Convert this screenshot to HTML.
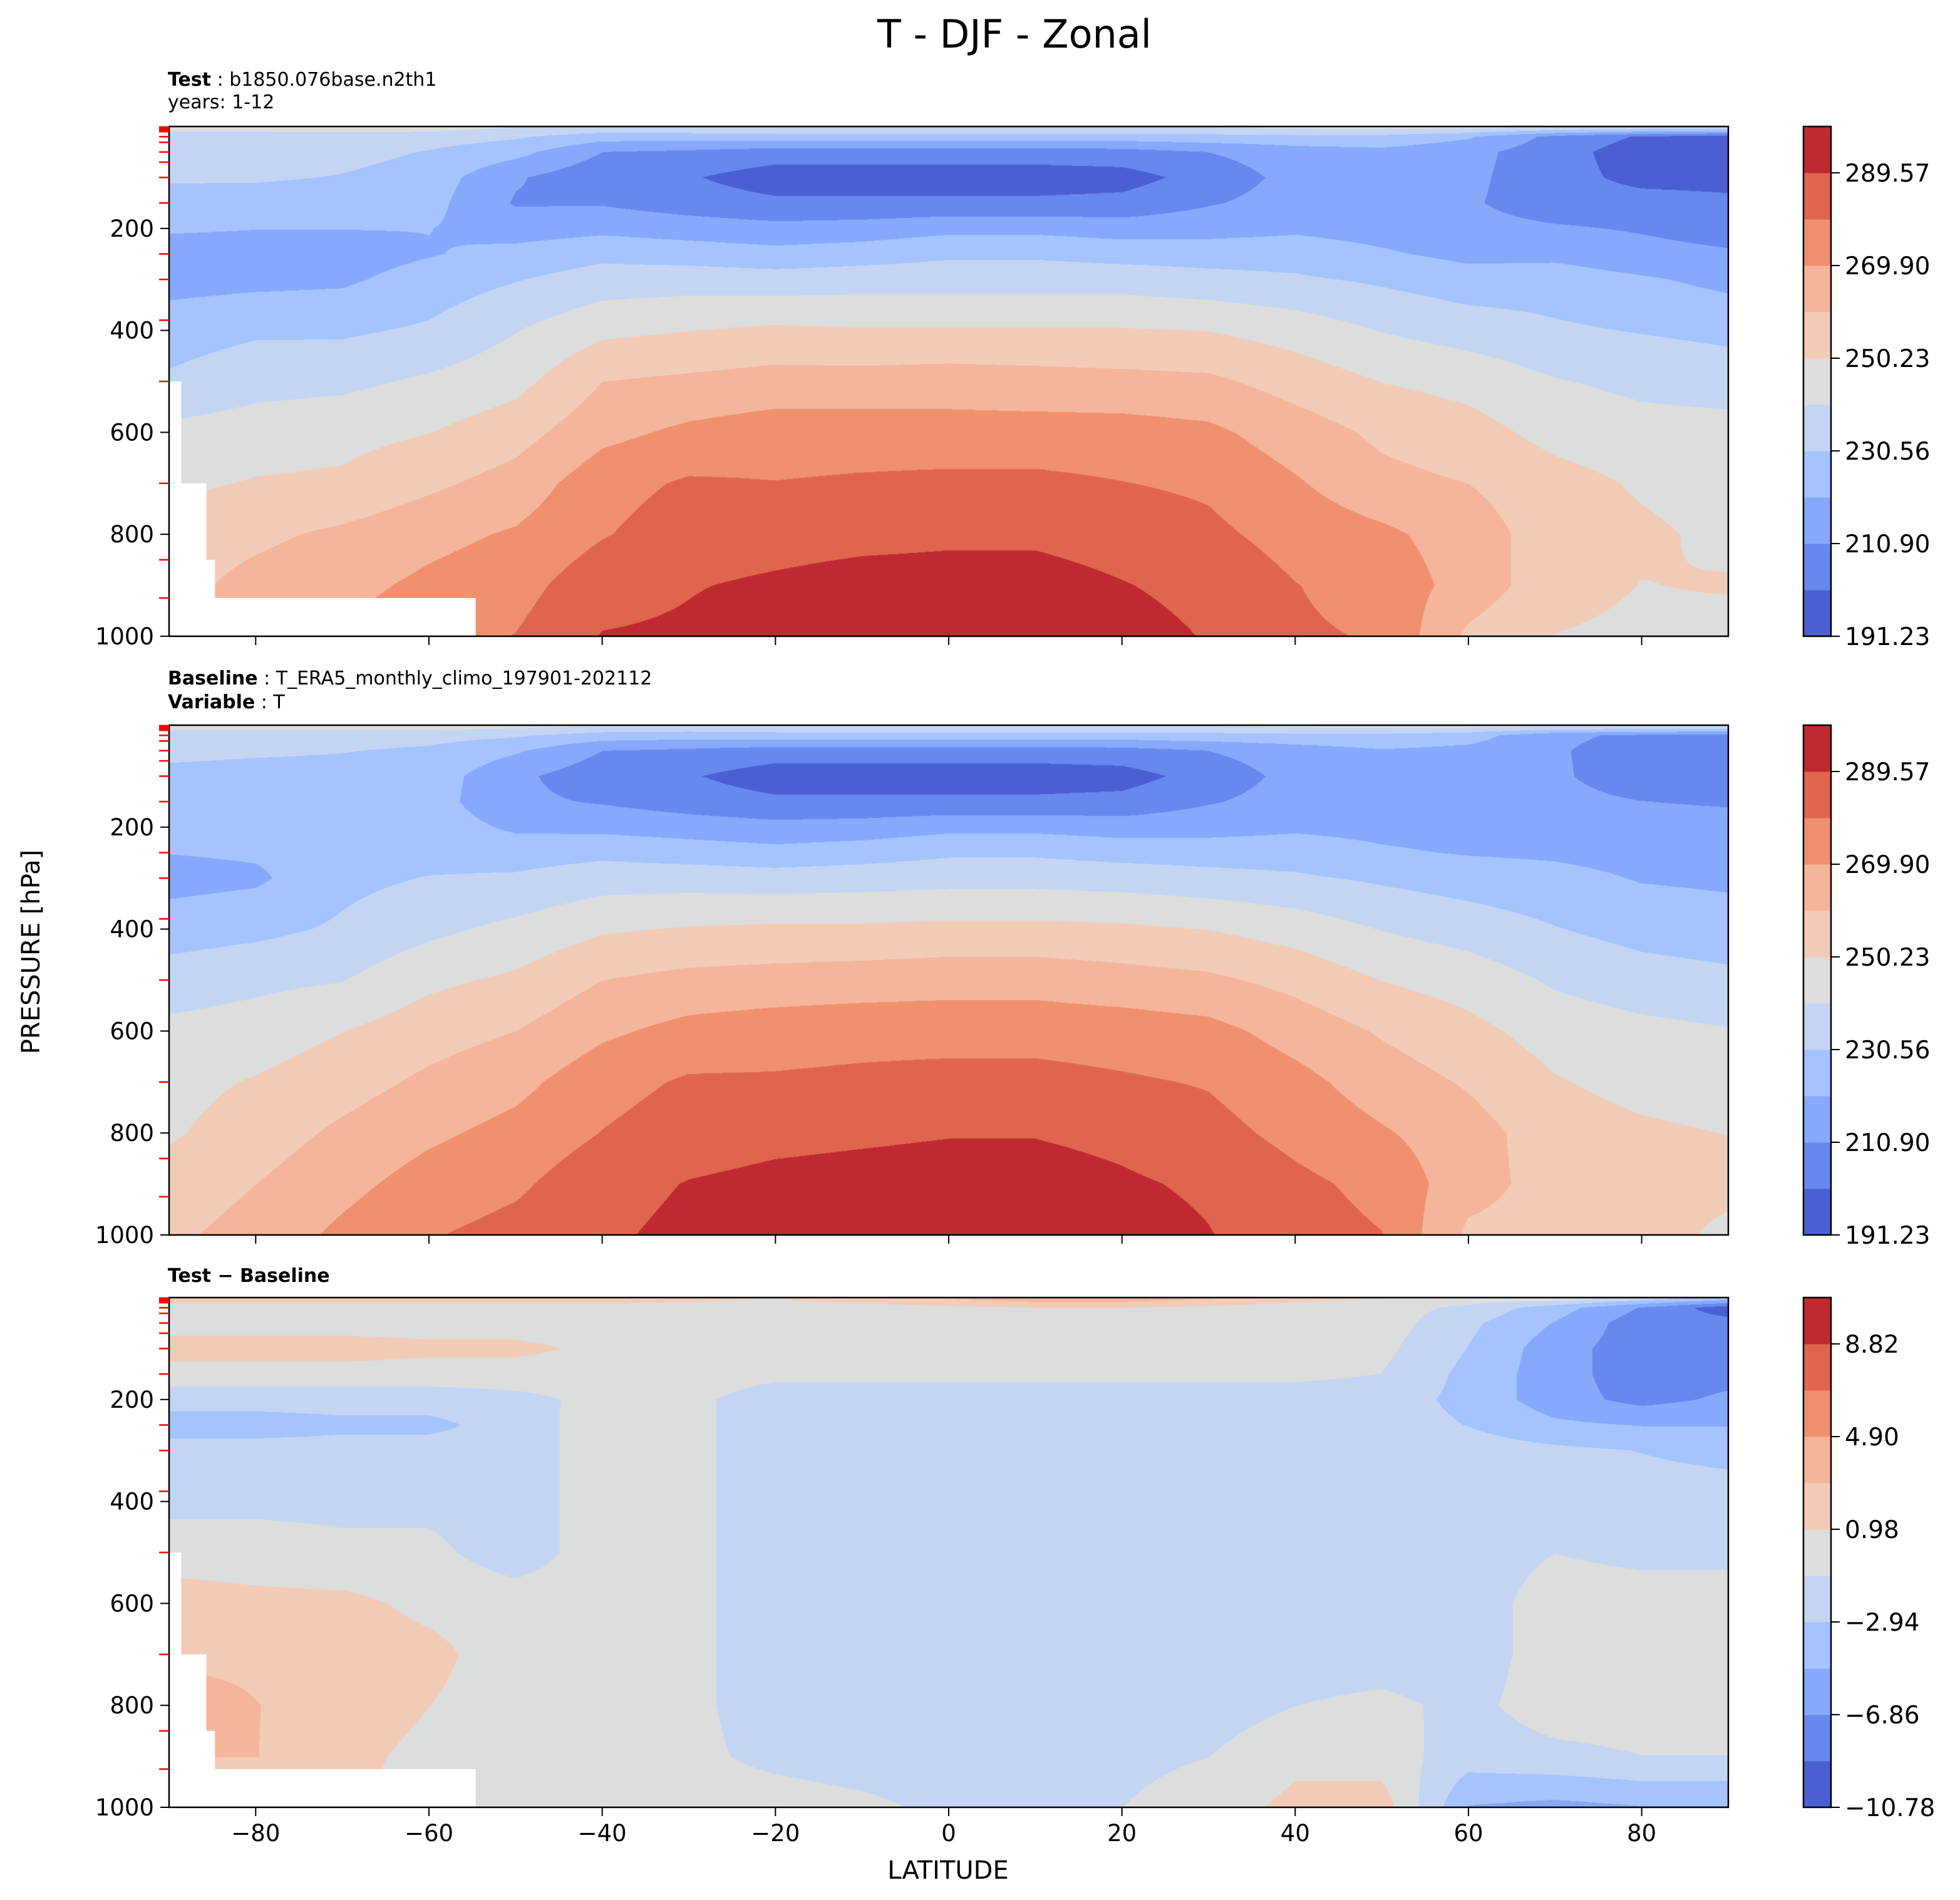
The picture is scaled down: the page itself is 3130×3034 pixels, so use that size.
<!DOCTYPE html>
<html><head><meta charset="utf-8"><style>
body{margin:0;background:#fff;}
#wrap{position:relative;width:3130px;height:3034px;overflow:hidden;font-family:"DejaVu Sans","Liberation Sans",sans-serif;}
canvas{position:absolute;}
.t{position:absolute;white-space:nowrap;color:#000;}
</style></head><body>
<div id="wrap">
<div class="t" style="left:0;width:3240px;text-align:center;top:18px;font-size:62px;">T - DJF - Zonal</div>
<div class="t" style="left:268px;top:110px;font-size:30px;"><b>Test</b> : b1850.076base.n2th1</div>
<div class="t" style="left:268px;top:146px;font-size:30px;">years: 1-12</div>
<div class="t" style="left:268px;top:1066px;font-size:30px;"><b>Baseline</b> : T_ERA5_monthly_climo_197901-202112</div>
<div class="t" style="left:268px;top:1104px;font-size:30px;"><b>Variable</b> : T</div>
<div class="t" style="left:268px;top:2020px;font-size:30px;font-weight:bold;">Test − Baseline</div>
<div class="t" style="left:50px;top:1520px;font-size:40px;transform:translate(-50%,-50%) rotate(-90deg);">PRESSURE [hPa]</div>
<div class="t" style="left:1514px;top:2964px;font-size:40px;transform:translateX(-50%);">LATITUDE</div>
<svg id="svg" width="3130" height="3034" style="position:absolute;left:0;top:0;"></svg>
</div>
<script>
// ---------- data ----------
const lats = [-90,-80,-70,-60,-50,-40,-30,-20,-10,0,10,20,30,40,50,60,70,80,90];
const pressures = [2,20,50,100,150,200,250,300,400,500,600,700,800,900,1000];
const testT = [
[245,235,235,232,226,222,216,217,226,232,243,248,255,257,260],
[245,235,235,232,225,221,216,218,229,237,245,251,258,263,266],
[245,236,234,230,225,221,216,219,229,238,247,252,262,267,271],
[245,235,230,226,224,221,220,225,232,242,250,258,267,272,276],
[240,232,224,212,210,216,224,230,240,247,256,264,271,276,280],
[238,225,211,204,210,218,228,235,248,260,267,276,279,286,290],
[239,225,209,202,206,216,226,236,250,262,272,281,285,289,291],
[240,226,206,196,203,214,224,235,252,264,275,280,286,291,295],
[240,226,206,196,203,215,226,236,251,264,275,281,287,293,296],
[240,226,206,196,203,218,229,236,251,265,274,282,288,293,297],
[240,226,206,196,203,218,229,236,251,264,274,282,288,293,296],
[240,226,207,197,204,216,227,236,251,263,274,280,286,290,293],
[240,227,211,205,210,217,226,234,250,262,272,278,282,287,289],
[242,228,216,214,215,219,226,232,246,256,265,271,276,280,281],
[243,228,218,215,215,217,222,229,240,250,258,263,272,276,279],
[243,222,214,213,212,214,218,225,236,247,254,260,265,266,258],
[240,208,205,205,206,212,218,226,232,241,247,254,255,254,250],
[238,200,196,198,205,210,214,222,230,238,244,249,252,250,248],
[238,197,195,198,203,207,212,218,228,236,244,246,248,251,247]
];
const baseT = [
[245,235,233,228,226,225,221,217,226,235,243,247,249,254,258],
[245,235,232,227,225,224,222,219,228,238,245,251,255,260,264],
[245,235,231,227,225,225,225,228,232,240,250,256,262,267,272],
[245,234,229,226,225,226,227,231,238,248,256,262,268,274,279],
[243,232,222,213,213,219,226,232,243,252,260,267,273,278,283],
[240,226,211,205,210,218,228,236,249,260,268,276,280,286,288],
[239,225,209,202,206,216,226,236,251,263,273,281,285,290,292],
[240,226,206,196,203,214,224,235,252,264,275,281,287,292,295],
[240,226,206,196,203,215,226,236,252,265,276,282,288,293,296],
[240,226,206,196,203,218,229,237,253,266,276,283,289,294,297],
[240,226,206,196,203,218,229,237,253,266,276,283,289,294,297],
[240,226,207,197,204,216,227,236,252,264,275,281,287,291,294],
[240,227,211,205,210,217,226,234,250,262,273,279,283,288,290],
[242,228,216,214,215,219,226,232,246,257,266,273,277,282,284],
[243,228,220,216,216,218,222,229,240,250,259,265,271,277,280],
[243,225,218,216,216,217,220,226,236,246,253,259,264,264,258],
[241,213,212,212,213,215,219,224,231,239,246,251,255,256,256],
[240,209,206,207,211,214,217,220,227,235,243,247,252,255,256],
[240,207,206,206,210,214,217,219,225,233,241,245,250,254,247]
];
const diffT = [
[2,0,0,2,0,-2,-4,-2,-1.5,0,2,2.5,4,3,0],
[2,0,0,2,0,-2,-4,-2,-1.5,0,1.5,2.5,3,3,0],
[2,0,0,2,0,-2,-3.5,-2,-1.5,-0.5,1.5,2,2,1.5,1],
[2,0,0,1.5,0,-2,-3.5,-2,-1.5,-0.5,0.5,1.5,1,0.5,0.5],
[2,0,0,1.5,0,-1.5,-2,-2,-2,-2,0,0,0,0,0.5],
[2,0,0,0.5,0,-0.5,0,0,0,0,0,0,0,0,0],
[1.5,0,0.5,0.5,0,-0.5,-0.5,-0.5,-0.5,-0.5,-0.5,-0.5,-0.5,-0.5,0],
[1,0,0.5,0.5,-0.5,-2,-2,-2,-2,-2,-2,-2,-2,-1.5,0],
[2,0,0,0,-0.5,-2,-2,-2,-2,-2,-2,-2,-2,-2,-0.5],
[3,0.5,0,0,-0.5,-2,-2,-2,-2,-2,-2,-2,-1,-2,-1.5],
[4,1,0,0,-0.5,-2,-2,-2,-2,-2,-2,-2,-2,-2,-1.5],
[4,1,0,0,-0.5,-2,-2,-2,-2,-2,-2,-2,-2,-1.5,-1],
[3,0.5,0,0,-0.5,-2,-2,-2,-2,-2,-2,-2,-2,-1,0],
[1.5,0,0,0,-0.5,-2,-2,-2,-2,-2,-2,-2,-1,0.5,1.5],
[1,0,0,-0.5,-1,-2,-2,-2,-2,-2,-2,-2,-0.5,0,2],
[0,-1.5,-2.5,-3,-3.5,-3.5,-3,-2,-2,-2,-2,-2,-1.5,-2,-5],
[0,-4,-5,-6,-6,-6,-4.5,-2.5,-2,-1,0,0,0,-1.5,-5.5],
[-2,-7,-8,-8,-8,-7.5,-5,-3,-2,-1.5,0,0,0,-1,-5],
[-4,-10,-8,-8,-7.5,-6.5,-5,-3.5,-2,-1.5,0,0,0,-1,-5]
];
const tempTicks = ["191.23","210.90","230.56","250.23","269.90","289.57"];
const diffTicks = ["−10.78","−6.86","−2.94","0.98","4.90","8.82"];
const xTicks = [-80,-60,-40,-20,0,20,40,60,80];
const yTicks = [200,400,600,800,1000];
const levelTicks = [1,2,3,5,7,10,20,31,50,70,100,150,250,300,380,500,700,850,925];
const maskLat = [-88.6,-85.7,-84.7,-54.6];
const maskP = [500,700,850,925];
const bandColors = ["#4a5fd1","#6788ee","#87a9fc","#a5c3fe","#c4d5f3","#dcdddd","#f2cbb7","#f5b59a","#f0906f","#e0654f","#c0292f"];

// ---------- layout ----------
const AX_L=270, AX_R=2760, AX_H=814;
const panels=[
 {top:202,data:testT,min:191.23,max:299.40,ticks:tempTicks,mask:true,name:'test'},
 {top:1158,data:baseT,min:191.23,max:299.40,ticks:tempTicks,mask:false,name:'baseline'},
 {top:2072,data:diffT,min:-10.78,max:10.78,ticks:diffTicks,mask:true,name:'difference'}
];
const FONT='DejaVu Sans, Liberation Sans, sans-serif';
function xScale(lat){return AX_L+(lat+90)/180*(AX_R-AX_L);}
function yScale(p,top){return top+p/1000*AX_H;}
function hex(c){return [parseInt(c.slice(1,3),16),parseInt(c.slice(3,5),16),parseInt(c.slice(5,7),16)];}
const rgb=bandColors.map(hex);
const wrap=document.getElementById('wrap');
const svg=document.getElementById('svg');
const NS='http://www.w3.org/2000/svg';
function mk(tag,attrs,name,parent){const e=document.createElementNS(NS,tag);for(const k in attrs)e.setAttribute(k,attrs[k]);
 
 
 (parent||svg).appendChild(e);return e;}
function interp(data,lat,p){
 let i=Math.min(lats.length-2,Math.max(0,Math.floor((lat+90)/10)));
 let fx=(lat-lats[i])/(lats[i+1]-lats[i]);
 let j=0;while(j<pressures.length-2&&p>pressures[j+1])j++;
 let fy=(p-pressures[j])/(pressures[j+1]-pressures[j]);fy=Math.max(0,Math.min(1,fy));
 const a=data[i][j],b=data[i+1][j],c=data[i][j+1],d=data[i+1][j+1];
 return (a*(1-fx)+b*fx)*(1-fy)+(c*(1-fx)+d*fx)*fy;
}
panels.forEach((pn,pi)=>{
 const W=AX_R-AX_L,H=AX_H;
 const cv=document.createElement('canvas');cv.width=W;cv.height=H;
 cv.style.left=AX_L+'px';cv.style.top=pn.top+'px';
 
 
 wrap.insertBefore(cv,svg);
 const ctx=cv.getContext('2d');const img=ctx.createImageData(W,H);const bw=(pn.max-pn.min)/11;
 for(let y=0;y<H;y++){const p=(y+0.5)/H*1000;
  for(let x=0;x<W;x++){const lat=(x+0.5)/W*180-90;
   const v=interp(pn.data,lat,p);let b=Math.floor((v-pn.min)/bw);b=Math.max(0,Math.min(10,b));
   const k=(y*W+x)*4;img.data[k]=rgb[b][0];img.data[k+1]=rgb[b][1];img.data[k+2]=rgb[b][2];img.data[k+3]=255;}}
 ctx.putImageData(img,0,0);
 if(pn.mask){maskLat.forEach((ml,mi)=>{
  mk('rect',{x:xScale(-90),y:yScale(maskP[mi],pn.top),width:xScale(ml)-xScale(-90),height:yScale(1000,pn.top)-yScale(maskP[mi],pn.top),fill:'#fff'},pn.name+'-surface-mask');});}
 mk('rect',{x:AX_L,y:pn.top,width:AX_R-AX_L,height:AX_H,fill:'none',stroke:'#000','stroke-width':2.5},pn.name+'-axes-frame');
 levelTicks.forEach(p=>{const y=yScale(p,pn.top);mk('line',{x1:AX_L-16,x2:AX_L,y1:y,y2:y,stroke:'#f00','stroke-width':2.5},'model-level-tick');});
 yTicks.forEach(p=>{const y=yScale(p,pn.top);mk('line',{x1:AX_L-14,x2:AX_L,y1:y,y2:y,stroke:'#000','stroke-width':2},'y-tick');
  const t=mk('text',{x:AX_L-24,y:y+13,'text-anchor':'end','font-size':37,'font-family':FONT},'y-tick-label');t.textContent=p;});
 xTicks.forEach(l=>{const x=xScale(l);mk('line',{x1:x,x2:x,y1:pn.top+AX_H,y2:pn.top+AX_H+14,stroke:'#000','stroke-width':2},'x-tick');
  if(pi===2){const t=mk('text',{x:x,y:pn.top+AX_H+54,'text-anchor':'middle','font-size':37,'font-family':FONT},'x-tick-label');t.textContent=(l<0?'−'+(-l):l);}});
 const CX=2880,CW=44,bh=AX_H/11;
 for(let b=0;b<11;b++){mk('rect',{x:CX,y:pn.top+AX_H-(b+1)*bh,width:CW,height:bh+0.5,fill:bandColors[b]},'colorbar-band');}
 mk('rect',{x:CX,y:pn.top,width:CW,height:AX_H,fill:'none',stroke:'#000','stroke-width':2.5},pn.name+'-colorbar-frame');
 pn.ticks.forEach((lab,ti)=>{const y=pn.top+AX_H-ti*2*bh;
  mk('line',{x1:CX+CW,x2:CX+CW+14,y1:y,y2:y,stroke:'#000','stroke-width':2},'colorbar-tick');
  const t=mk('text',{x:CX+CW+22,y:y+14,'font-size':39,'font-family':FONT},'colorbar-tick-label');t.textContent=lab;});
});
</script>
</body></html>
